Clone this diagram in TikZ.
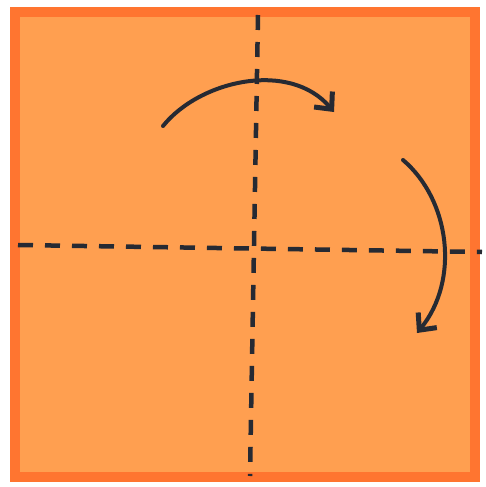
\documentclass[tikz,border=0pt]{standalone}
\usepackage{tikz}
\usepackage{xcolor}
\usetikzlibrary{arrows.meta}
\definecolor{paperfill}{HTML}{FF9F50}
\definecolor{paperedge}{HTML}{FF7530}
\definecolor{inkcolor}{HTML}{262A33}
\tikzset{
    paper/.style={draw=paperedge, fill=paperfill, line width=10pt, line join=miter},
    foldline/.style={draw=inkcolor, line width=4.5pt, dash pattern=on 15pt off 12pt},
    turnarrow/.style={draw=inkcolor, line width=4pt, line cap=round, -{Straight Barb[length=13pt, width=24pt, line width=5pt]}},
}
\begin{document}
\begin{tikzpicture}[x=1pt, y=-1pt]
\useasboundingbox (0,0) rectangle (485,487);

% ============================================================
% PAPER SQUARE
% ============================================================
\coordinate (tl) at (15,12);
\coordinate (br) at (475,477);
\draw[paper] (tl) rectangle (br);

% Fold lines
\coordinate (vtop) at (258,15);
\coordinate (vbot) at (250,476);
\coordinate (hleft) at (18,245);
\coordinate (hright) at (482,252);
\draw[foldline] (vtop) -- (vbot);
\draw[foldline] (hleft) -- (hright);

% ============================================================
% TURN ARROWS
% ============================================================
\coordinate (a1start) at (163,126);
\coordinate (a1end) at (334,112);
\draw[turnarrow] (a1start) .. controls (200,80) and (290,60) .. (a1end);

\coordinate (a2start) at (403,160);
\coordinate (a2end) at (417,333);
\draw[turnarrow] (a2start) .. controls (450,200) and (460,280) .. (a2end);

\end{tikzpicture}
\end{document}
